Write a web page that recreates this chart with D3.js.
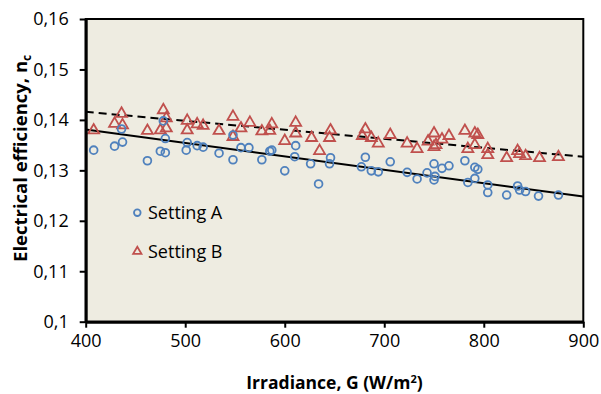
<!DOCTYPE html>
<html>
<head>
<meta charset="utf-8">
<script src="https://cdn.jsdelivr.net/npm/d3@7"></script>
<style>
  html, body { margin: 0; padding: 0; background: #fff; }
  svg { display: block; font-family: "Open Sans", "DejaVu Sans", sans-serif; }
</style>
</head>
<body>
<svg id="chart" width="601" height="394"></svg>
<script>
// ---- data ----
const settingA_G = [408, 429, 437, 436, 462, 475, 480, 480, 478, 502, 501, 512, 518, 534, 548, 548, 556, 564, 577, 585, 587, 600, 611, 610, 626, 634, 646, 645, 681, 677, 687, 694, 706, 723, 733, 743, 750, 750, 751, 758, 765, 781, 784, 791, 794, 791, 804, 804, 823, 834, 836, 842, 855, 875];
const settingA_eff = [0.1340, 0.1348, 0.1356, 0.1382, 0.1319, 0.1338, 0.1335, 0.1363, 0.1398, 0.1355, 0.1340, 0.1349, 0.1346, 0.1334, 0.1321, 0.1370, 0.1345, 0.1345, 0.1321, 0.1338, 0.1340, 0.1299, 0.1349, 0.1327, 0.1313, 0.1273, 0.1325, 0.1313, 0.1326, 0.1307, 0.1299, 0.1297, 0.1317, 0.1296, 0.1283, 0.1295, 0.1313, 0.1281, 0.1288, 0.1304, 0.1309, 0.1319, 0.1276, 0.1306, 0.1302, 0.1284, 0.1271, 0.1256, 0.1251, 0.1269, 0.1261, 0.1258, 0.1249, 0.1251];
const settingB_G = [408, 429, 436, 437, 462, 478, 481, 475, 481, 502, 502, 512, 518, 534, 548, 548, 556, 565, 577, 587, 585, 600, 611, 611, 627, 635, 646, 645, 681, 678, 687, 694, 706, 723, 733, 744, 750, 750, 752, 758, 765, 781, 784, 791, 794, 791, 804, 804, 823, 834, 836, 842, 856, 875];
const settingB_eff = [0.1381, 0.1394, 0.1414, 0.1391, 0.1380, 0.1421, 0.1405, 0.1381, 0.1385, 0.1400, 0.1381, 0.1393, 0.1390, 0.1380, 0.1408, 0.1368, 0.1385, 0.1396, 0.1379, 0.1393, 0.1380, 0.1360, 0.1396, 0.1375, 0.1366, 0.1340, 0.1381, 0.1366, 0.1383, 0.1370, 0.1366, 0.1355, 0.1372, 0.1355, 0.1344, 0.1359, 0.1375, 0.1348, 0.1352, 0.1363, 0.1370, 0.1380, 0.1344, 0.1375, 0.1372, 0.1352, 0.1344, 0.1332, 0.1326, 0.1340, 0.1334, 0.1330, 0.1326, 0.1328];
const trendA_G = [400, 900];
const trendA_eff = [0.1381, 0.1248];
const trendB_G = [400, 900];
const trendB_eff = [0.1416, 0.1327];
const xTicks = [400, 500, 600, 700, 800, 900];
const yTicks = [0.10, 0.11, 0.12, 0.13, 0.14, 0.15, 0.16];
const yTickLabels = ["0,1", "0,11", "0,12", "0,13", "0,14", "0,15", "0,16"];
const seriesNames = ["Setting A", "Setting B"];

// ---- layout ----
const svg = d3.select("#chart");
const pLeft = 85.7, pRight = 583.3, pTop = 19, pBottom = 321.7;
const x = d3.scaleLinear().domain([400, 900]).range([pLeft, pRight]);
const y = d3.scaleLinear().domain([0.10, 0.16]).range([pBottom, pTop]);
const colA = "#4F81BD", colB = "#C0504D";

// plot background + border
svg.append("rect").attr("x", pLeft).attr("y", pTop)
  .attr("width", pRight - pLeft).attr("height", pBottom - pTop)
  .attr("fill", "#EEECE1").attr("stroke", "#000").attr("stroke-width", 2);

// trend lines
const line = d3.line().x(d => x(d[0])).y(d => y(d[1]));
svg.append("path").datum(d3.zip(trendA_G, trendA_eff))
  .attr("d", line).attr("fill", "none").attr("stroke", "#000").attr("stroke-width", 2);
svg.append("path").datum(d3.zip(trendB_G, trendB_eff))
  .attr("d", line).attr("fill", "none").attr("stroke", "#000").attr("stroke-width", 2)
  .attr("stroke-dasharray", "8,5");

// markers
const tri = d3.symbol().type(d3.symbolTriangle).size(52);
svg.append("g").selectAll("path").data(d3.zip(settingB_G, settingB_eff)).join("path")
  .attr("d", tri)
  .attr("transform", d => `translate(${x(d[0])},${y(d[1]) + 0.8})`)
  .attr("fill", "none").attr("stroke", colB).attr("stroke-width", 1.8);
svg.append("g").selectAll("circle").data(d3.zip(settingA_G, settingA_eff)).join("circle")
  .attr("cx", d => x(d[0])).attr("cy", d => y(d[1])).attr("r", 3.9)
  .attr("fill", "none").attr("stroke", colA).attr("stroke-width", 1.8);

// axes
const xAxis = d3.axisBottom(x).tickValues(xTicks).tickSize(6).tickSizeOuter(0).tickPadding(7);
const gx = svg.append("g").attr("transform", `translate(0,${pBottom})`).call(xAxis);
const yAxis = d3.axisLeft(y).tickValues(yTicks).tickSize(6).tickSizeOuter(0).tickPadding(11)
  .tickFormat((d, i) => yTickLabels[i]);
const gy = svg.append("g").attr("transform", `translate(${pLeft},0)`).call(yAxis);
[gx, gy].forEach(g => {
  g.select(".domain").attr("stroke", "#000").attr("stroke-width", 3);
  g.selectAll(".tick line").attr("stroke", "#000").attr("stroke-width", 2);
  g.selectAll(".tick text").attr("fill", "#000").style("font-size", "18px")
    .style("font-family", "'Open Sans', sans-serif");
});

// axis titles
const xt = svg.append("text").attr("x", (pLeft + pRight) / 2).attr("y", 389)
  .attr("text-anchor", "middle").style("font-size", "17.5px").style("font-weight", "bold")
  .text("Irradiance, G (W/m");
xt.append("tspan").attr("dy", -6).style("font-size", "11px").text("2");
xt.append("tspan").attr("dy", 6).text(")");

const yt = svg.append("text").attr("transform", `translate(27,${(pTop + pBottom) / 2 - 12}) rotate(-90)`)
  .attr("text-anchor", "middle").style("font-size", "18.5px").style("font-weight", "bold")
  .text("Electrical efficiency, n");
yt.append("tspan").attr("dy", 4).style("font-size", "12px").text("c");

// legend
const leg = svg.append("g");
leg.append("circle").attr("cx", 137.3).attr("cy", 212.7).attr("r", 3.3)
  .attr("fill", "none").attr("stroke", colA).attr("stroke-width", 1.8);
leg.append("path").attr("d", d3.symbol().type(d3.symbolTriangle).size(30))
  .attr("transform", "translate(137.3,251.5)")
  .attr("fill", "none").attr("stroke", colB).attr("stroke-width", 1.8);
leg.append("text").attr("x", 148).attr("y", 219).style("font-size", "18px").text(seriesNames[0]);
leg.append("text").attr("x", 148).attr("y", 258).style("font-size", "18px").text(seriesNames[1]);
</script>
</body>
</html>
